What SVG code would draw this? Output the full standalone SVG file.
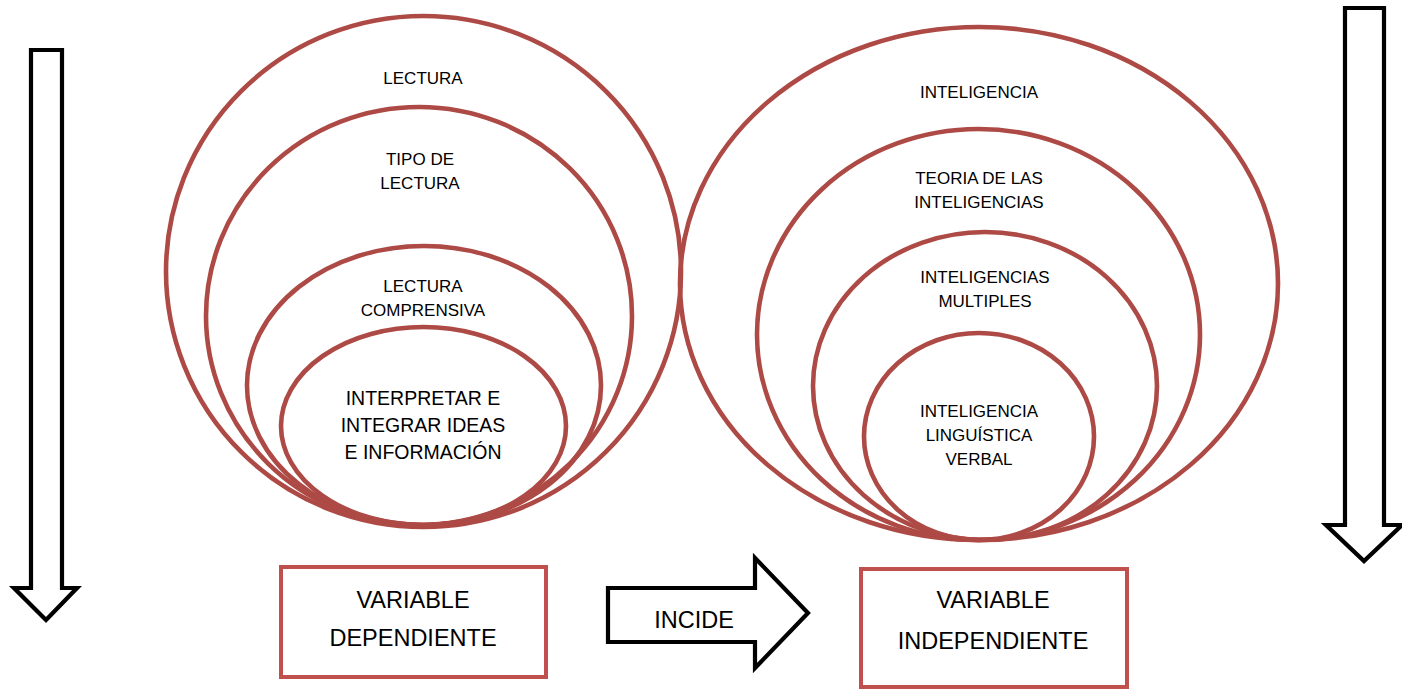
<svg xmlns="http://www.w3.org/2000/svg" width="1402" height="689" viewBox="0 0 1402 689">
<style>
.ring{fill:none;stroke:#AE4A45;stroke-width:4.6}
.box{fill:#fff;stroke:#C0504D;stroke-width:4}
.blk{fill:#fff;stroke:#000;stroke-width:4.2;stroke-linejoin:miter}
text{font-family:"Liberation Sans",Arial,sans-serif;fill:#000;text-anchor:middle}
.s{font-size:17px}
.m{font-size:19.5px}
.l{font-size:23.5px}
</style>
<rect width="1402" height="689" fill="#fff"/>
<g id="connectors">
  <polygon class="blk" points="31,50 62,50 62,588 77,588 46,620 14,588 31,588"/>
  <polygon class="blk" points="1345,8 1384,8 1384,525 1402,525 1364,561 1326,525 1345,525"/>
  <polygon id="incide-arrow" class="blk" points="608,588 755,588 755,558 808,613 755,668 755,642 608,642"/>
</g>
<g id="lectura">
  <ellipse class="ring" cx="423.5" cy="271.5" rx="257.5" ry="255.5"/>
  <text class="s" x="423" y="84">LECTURA</text>
</g>
<g id="tipo-lectura">
  <ellipse class="ring" cx="419" cy="316" rx="213" ry="209"/>
  <text class="s" x="420" y="165">TIPO DE</text>
  <text class="s" x="420" y="189">LECTURA</text>
</g>
<g id="lectura-comprensiva">
  <ellipse class="ring" cx="424" cy="385.5" rx="177" ry="139.5"/>
  <text class="s" x="423" y="292">LECTURA</text>
  <text class="s" x="423" y="316">COMPRENSIVA</text>
</g>
<g id="interpretar">
  <ellipse class="ring" cx="423.5" cy="426" rx="142.5" ry="99"/>
  <text class="m" x="423" y="405">INTERPRETAR E</text>
  <text class="m" x="423" y="432">INTEGRAR IDEAS</text>
  <text class="m" x="423" y="459">E INFORMACIÓN</text>
</g>
<g id="inteligencia">
  <ellipse class="ring" cx="979" cy="283.5" rx="299" ry="256.5"/>
  <text class="s" x="979" y="98">INTELIGENCIA</text>
</g>
<g id="teoria">
  <ellipse class="ring" cx="978.5" cy="334.5" rx="221.5" ry="205.5"/>
  <text class="s" x="979" y="184">TEORIA DE LAS</text>
  <text class="s" x="979" y="208">INTELIGENCIAS</text>
</g>
<g id="multiples">
  <ellipse class="ring" cx="985" cy="386" rx="172" ry="154"/>
  <text class="s" x="985" y="283">INTELIGENCIAS</text>
  <text class="s" x="985" y="307">MULTIPLES</text>
</g>
<g id="linguistica">
  <ellipse class="ring" cx="979" cy="436.5" rx="115" ry="103.5"/>
  <text class="s" x="979" y="417">INTELIGENCIA</text>
  <text class="s" x="979" y="441">LINGUÍSTICA</text>
  <text class="s" x="979" y="465">VERBAL</text>
</g>
<g id="var-dependiente">
  <rect class="box" x="281" y="567" width="265" height="110"/>
  <text class="l" x="413" y="608">VARIABLE</text>
  <text class="l" x="413" y="646">DEPENDIENTE</text>
</g>
<g id="incide-label">
  <text class="l" x="694" y="628">INCIDE</text>
</g>
<g id="var-independiente">
  <rect class="box" x="861" y="569" width="266" height="118"/>
  <text class="l" x="993" y="608">VARIABLE</text>
  <text class="l" x="993" y="649">INDEPENDIENTE</text>
</g>
</svg>
